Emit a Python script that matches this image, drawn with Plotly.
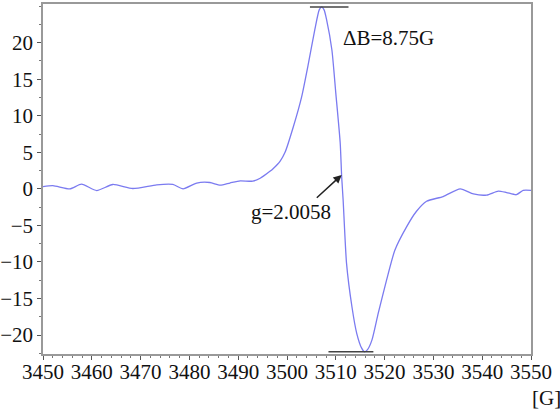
import plotly.graph_objects as go

# Field (G) and signal values
field = [3450.0, 3452.0, 3455.5, 3457.9, 3461.0, 3464.3, 3468.4, 3473.3, 3476.6, 3478.7,
         3481.5, 3484.2, 3486.3, 3488.3, 3490.4, 3493.0, 3494.5, 3496.5, 3497.2, 3498.6,
         3499.6, 3501.3, 3503.0, 3504.4, 3505.7, 3506.6, 3507.1, 3507.6, 3508.1, 3509.2,
         3510.0, 3510.9, 3511.2, 3511.5, 3512.2, 3513.3, 3514.3, 3515.3, 3515.9, 3516.5,
         3517.4, 3518.7, 3520.4, 3522.1, 3524.5, 3526.5, 3528.6, 3532.0, 3535.5, 3538.2,
         3540.9, 3543.3, 3545.0, 3547.0, 3548.4, 3550.0]
signal = [0.3, 0.45, 0.0, 0.64, -0.23, 0.6, 0.05, 0.55, 0.6, 0.0,
          0.8, 0.87, 0.5, 0.8, 1.1, 1.05, 1.45, 2.4, 2.8, 3.8,
          5.0, 8.5, 12.6, 17.2, 21.8, 24.5, 24.9, 24.5, 23.2, 19.0,
          13.1, 6.3, 1.7, -1.5, -10.2, -16.1, -19.8, -21.8, -22.3, -22.0,
          -20.7, -17.0, -12.5, -8.4, -5.2, -3.1, -1.7, -1.05, 0.0, -0.7,
          -0.85, -0.3, -0.5, -0.8, -0.2, -0.2]

x_ticks = list(range(3450, 3551, 10))
y_ticks = list(range(-20, 21, 5))

# Peak markers and annotations
peak_line_x = [3504.7, 3512.6]
peak_line_y = [24.9, 24.9]
trough_line_x = [3508.5, 3517.7]
trough_line_y = [-22.3, -22.3]
arrow_tip = (3511.2, 1.9)
arrow_tail = (3505.8, -1.4)
delta_label = "ΔB=8.75G"
g_label = "g=2.0058"

font_family = "'Liberation Serif', 'DejaVu Serif', serif"
fs = 21

fig = go.Figure()
fig.add_trace(go.Scatter(x=field, y=signal, mode="lines",
                         line=dict(color="#7b7bf0", width=1.3, shape="spline", smoothing=0.6),
                         showlegend=False, hoverinfo="skip"))
fig.add_trace(go.Scatter(x=peak_line_x, y=peak_line_y, mode="lines",
                         line=dict(color="#444444", width=1.5), showlegend=False,
                         hoverinfo="skip"))
fig.add_trace(go.Scatter(x=trough_line_x, y=trough_line_y, mode="lines",
                         line=dict(color="#444444", width=1.5), showlegend=False,
                         hoverinfo="skip"))

fig.add_annotation(x=3511.0, y=20.7, text=delta_label, showarrow=False,
                   xanchor="left", yanchor="middle",
                   font=dict(family=font_family, size=fs, color="#111111"))
fig.add_annotation(x=arrow_tip[0], y=arrow_tip[1], ax=arrow_tail[0], ay=arrow_tail[1],
                   axref="x", ayref="y", text="", showarrow=True,
                   arrowhead=2, arrowsize=1.1, arrowwidth=1.5, arrowcolor="#222222")
fig.add_annotation(x=3509.4, y=-3.2, text=g_label, showarrow=False,
                   xanchor="right", yanchor="middle",
                   font=dict(family=font_family, size=fs, color="#111111"))
fig.add_annotation(xref="paper", yref="paper", x=1.066, y=-0.085, text="[G]",
                   showarrow=False, xanchor="right", yanchor="top",
                   font=dict(family=font_family, size=fs, color="#111111"))

axis_common = dict(ticks="outside", ticklen=4, tickcolor="#555555", showline=True,
                   linecolor="#999999", linewidth=1.5, mirror=True, showgrid=False,
                   zeroline=False, automargin=False,
                   tickfont=dict(family=font_family, size=fs, color="#111111"))
fig.update_xaxes(range=[3450, 3550], tickvals=x_ticks, ticklabelstandoff=-6,
                 minor=dict(dtick=2, ticks="outside", ticklen=2, tickcolor="#777777"),
                 **axis_common)
fig.update_yaxes(range=[-22.6, 25.3], tickvals=y_ticks,
                 minor=dict(dtick=2.5, ticks="outside", ticklen=2, tickcolor="#777777"),
                 **axis_common)

fig.update_layout(width=560, height=412, margin=dict(l=43, r=29, t=4, b=58),
                  plot_bgcolor="white", paper_bgcolor="white", hovermode=False,
                  font=dict(family=font_family))

fig.write_html("out.html", config={"displayModeBar": False},
               post_script="document.body.style.margin='0';document.body.style.overflow='hidden';")
